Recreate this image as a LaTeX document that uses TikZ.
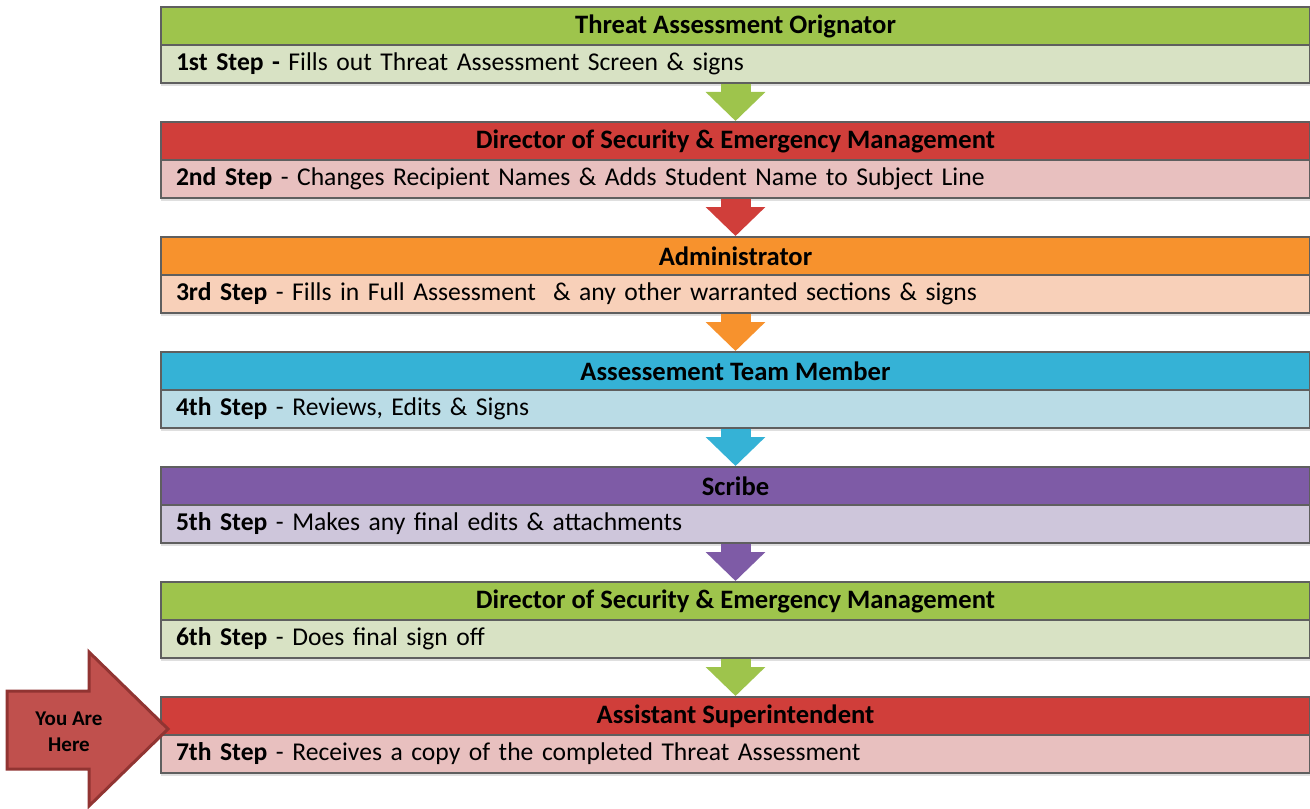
\documentclass[tikz,border=0pt]{standalone}
\usepackage{fontspec}
\setmainfont{Carlito}
\usepackage{tikz}
\usetikzlibrary{arrows.meta,positioning}
\usetikzlibrary{shadows}

\definecolor{edge}{RGB}{95,95,95}
\definecolor{grn}{RGB}{158,196,76}
\definecolor{grnpale}{RGB}{216,226,196}
\definecolor{red}{RGB}{208,62,58}
\definecolor{redpale}{RGB}{232,192,191}
\definecolor{org}{RGB}{247,146,45}
\definecolor{orgpale}{RGB}{248,208,185}
\definecolor{blu}{RGB}{53,178,214}
\definecolor{blupale}{RGB}{186,220,230}
\definecolor{pur}{RGB}{126,91,166}
\definecolor{purpale}{RGB}{206,198,219}
\definecolor{here}{RGB}{192,80,77}
\definecolor{heredark}{RGB}{145,52,50}

\tikzset{
	hdr/.style={draw=edge, line width=1pt, minimum width=574.5pt, minimum height=19pt, inner sep=0pt, font=\bfseries\fontsize{13.3}{15}\selectfont},
	sub/.style={draw=edge, line width=1pt, text width=559.5pt, inner xsep=7.5pt, inner ysep=0pt, minimum height=19pt, align=left, font=\fontsize{12.8}{15}\selectfont, drop shadow={opacity=0.25, shadow xshift=0pt, shadow yshift=-1.5pt}},
	flow/.style={line width=15pt, -{Triangle[width=29pt,length=14.5pt]}},
}

\begin{document}
\begin{tikzpicture}[x=0.5pt, y=-0.5pt]
		\useasboundingbox (0,0) rectangle (1310,808);
		% steps
		\foreach \i/\col/\title/\step/\what in {
			1/grn/{Threat Assessment Orignator}/{1st Step -}/{ Fills out Threat Assessment Screen \& signs},
			2/red/{Director of Security \& Emergency Management}/{2nd Step}/{ - Changes Recipient Names \& Adds Student Name to Subject Line},
			3/org/{Administrator}/{3rd Step}/{ - Fills in Full Assessment \ \& any other warranted sections \& signs},
			4/blu/{Assessement Team Member}/{4th Step}/{ - Reviews, Edits \& Signs},
			5/pur/{Scribe}/{5th Step}/{ - Makes any final edits \& attachments},
			6/grn/{Director of Security \& Emergency Management}/{6th Step}/{ - Does final sign off},
			7/red/{Assistant Superintendent}/{7th Step}/{ - Receives a copy of the completed Threat Assessment}}
		{
			\node[hdr, fill=\col] (h\i) at (735.5, {26+115*(\i-1)}) {\title};
			\node[sub, fill=\col pale, below=-1pt of h\i] (s\i) {\textbf{\step}\what};
			\node[hdr, fill=\col] at (h\i) {\title};
		}
		%\path[->] (s1) edge (h2);
		\foreach \i/\j/\col in {1/2/grn, 2/3/red, 3/4/org, 4/5/blu, 5/6/pur, 6/7/grn}
			\draw[flow, \col] (s\i.south) -- (h\j.north);
		% you are here
		\draw[fill=here, draw=heredark, line width=1.5pt, line join=miter]
			(7,691) -- (89,691) -- (89,652) -- (168,729) -- (89,806) -- (89,769) -- (7,769) -- cycle;
		\node[align=center, font=\bfseries\fontsize{10.5}{13}\selectfont] (here) at (69,732) {You Are\\Here};
\end{tikzpicture}
\end{document}
